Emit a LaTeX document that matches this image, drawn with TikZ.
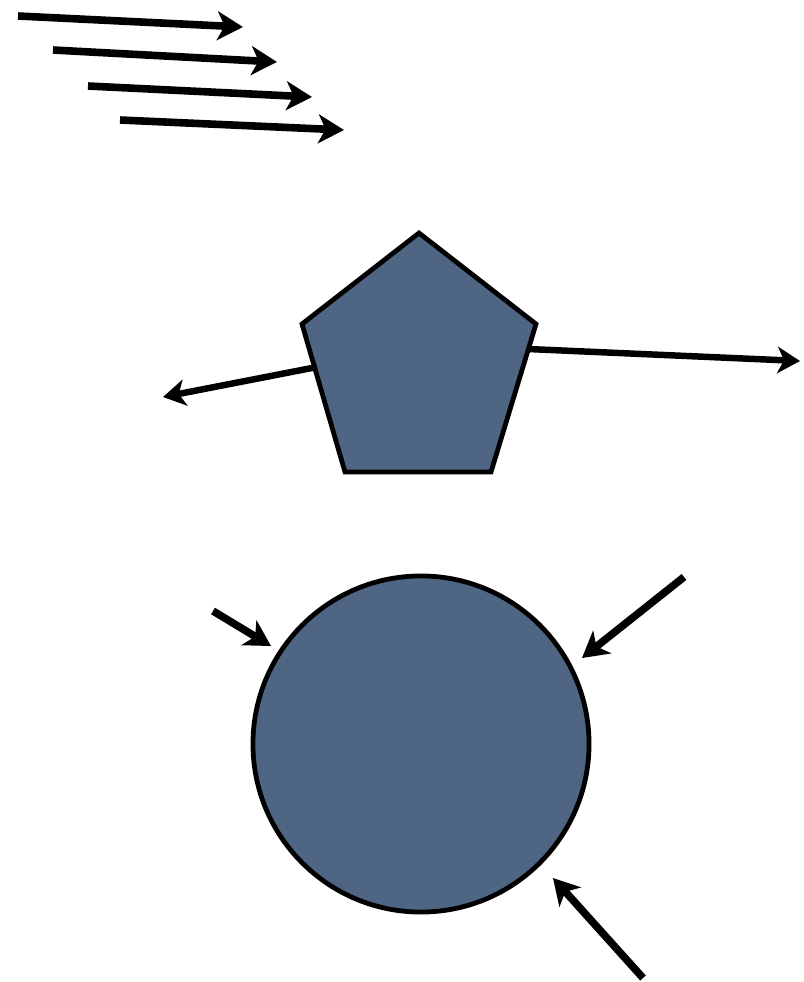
\documentclass[tikz,border=0pt]{standalone}
\usepackage{tikz}
\usetikzlibrary{arrows.meta}
\definecolor{slate}{RGB}{79,101,132}

\begin{document}
\begin{tikzpicture}[
  x=0.025cm,y=-0.025cm,
  ray/.style={line width=5.4pt,-{Stealth[length=6.4mm,width=7.2mm,inset=1.8mm]}},
  thinray/.style={ray,line width=4.6pt,-{Stealth[length=5.6mm,width=6.6mm,inset=1.6mm]}},
  body/.style={draw,line width=3.4pt,fill=slate,line join=miter}
]
\useasboundingbox (0,0) rectangle (804,982);

% incoming parallel rays
\coordinate (s1) at (18,16);   \coordinate (e1) at (243,27);
\coordinate (s2) at (53,50);   \coordinate (e2) at (277,62);
\coordinate (s3) at (88,86);   \coordinate (e3) at (312,97);
\coordinate (s4) at (120,120); \coordinate (e4) at (344,130);
\foreach \i in {1,...,4}
  \draw[ray] (s\i) -- (e\i);

% pentagon
\coordinate (ptop) at (419,233);
\coordinate (pright) at (536,324);
\coordinate (pbr) at (491,472);
\coordinate (pbl) at (345,472);
\coordinate (pleft) at (302,324);
\draw[body] (ptop) -- (pright) -- (pbr) -- (pbl) -- (pleft) -- cycle;

\coordinate (lin) at (317,367);  \coordinate (lout) at (163,397);
\coordinate (rin) at (528,349);  \coordinate (rout) at (800,361);
\draw[thinray] (lin) -- (lout);
\draw[thinray] (rin) -- (rout);

% circle
\node[body,circle,minimum size=8.4cm,inner sep=0pt] (ball) at (421,744) {};

\coordinate (a1) at (213,611); \coordinate (b1) at (271,646);
\coordinate (a2) at (684,577); \coordinate (b2) at (582,658);
\coordinate (a3) at (643,978); \coordinate (b3) at (553,878);
\foreach \i in {1,2,3}
  \draw[ray] (a\i) -- (b\i);
\end{tikzpicture}
\end{document}
